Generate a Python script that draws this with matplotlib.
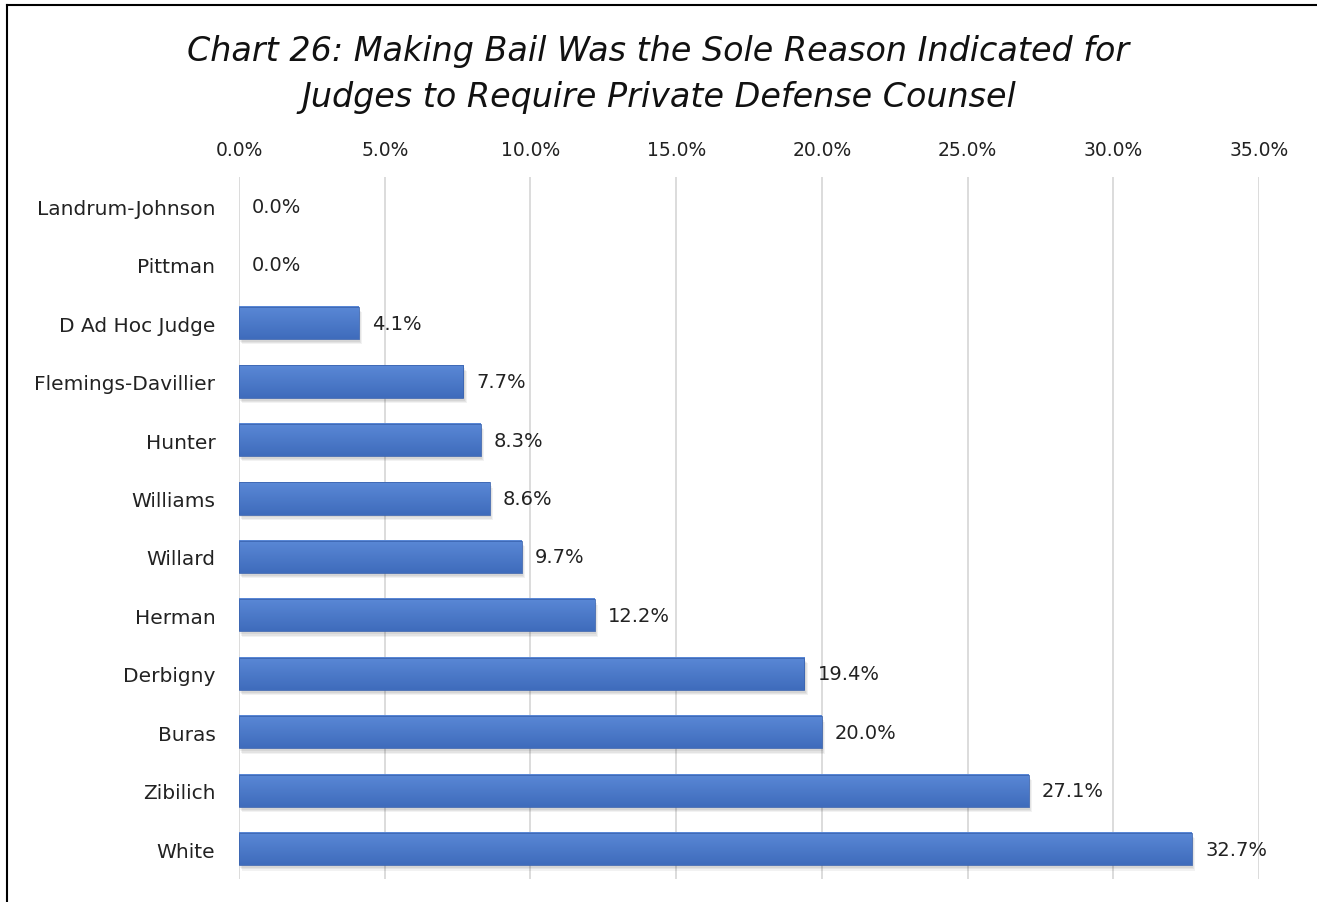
import numpy as np
import matplotlib.pyplot as plt
from matplotlib.lines import Line2D
from matplotlib.colors import LinearSegmentedColormap

judges = ["Landrum-Johnson", "Pittman", "D Ad Hoc Judge", "Flemings-Davillier", "Hunter",
          "Williams", "Willard", "Herman", "Derbigny", "Buras", "Zibilich", "White"]
pct = [0.0, 0.0, 4.1, 7.7, 8.3, 8.6, 9.7, 12.2, 19.4, 20.0, 27.1, 32.7]
ticks = [0, 5, 10, 15, 20, 25, 30, 35]

fig = plt.figure(figsize=(13.17, 9.03), dpi=100)
ax = fig.add_axes([0.1815, 0.026, 0.7745, 0.777])

blues = LinearSegmentedColormap.from_list("b", ["#5A88D6", "#3F6CBC"])
y = np.arange(len(judges))
for yi, v in zip(y, pct):
    if v <= 0:
        continue
    # soft drop shadow
    for k, a in enumerate([0.06, 0.06, 0.05]):
        ax.barh(yi + 0.05 + 0.02 * k, v, height=0.55, left=0.05 + 0.03 * k,
                color="#000000", alpha=a, lw=0, zorder=2)
    # vertical gradient, lighter at the top
    grad = np.linspace(0, 1, 50).reshape(-1, 1)
    ax.imshow(grad, cmap=blues, extent=(0, v, yi + 0.275, yi - 0.275),
              aspect="auto", zorder=3, interpolation="bilinear")
    ax.barh(yi, v, height=0.55, color="none", edgecolor="#3C65B0", linewidth=0.6, zorder=3.5)

for yi, v in zip(y, pct):
    ax.text(v + 0.45, yi, f"{v:.1f}%", va="center", ha="left", fontsize=14, color="#222222", zorder=4)

ax.set_xlim(0, 35)
ax.set_ylim(len(judges) - 0.5, -0.5)
ax.set_yticks(y)
ax.set_yticklabels(judges, fontsize=14.5)
ax.set_xticks(ticks)
ax.set_xticklabels([f"{t:.1f}%" for t in ticks], fontsize=13.5)
ax.xaxis.tick_top()
ax.tick_params(axis="both", length=0, colors="#222222")
ax.tick_params(axis="x", pad=13)
ax.tick_params(axis="y", pad=17)
ax.grid(axis="x", color="#D9D9D9", linewidth=1.3, zorder=0)
ax.set_axisbelow(True)
for s in ax.spines.values():
    s.set_visible(False)

fig.text(0.5, 0.961, "Chart 26: Making Bail Was the Sole Reason Indicated for\nJudges to Require Private Defense Counsel",
         ha="center", va="top", fontsize=24, style="italic", color="#111111", linespacing=1.5)

# frame lines (left and top) as in the screenshot
fig.add_artist(Line2D([0.0053, 0.0053], [0, 0.9936], transform=fig.transFigure, color="black", lw=1.5))
fig.add_artist(Line2D([0.0053, 1], [0.9936, 0.9936], transform=fig.transFigure, color="black", lw=1.5))

fig.savefig("out.png", dpi=100)
